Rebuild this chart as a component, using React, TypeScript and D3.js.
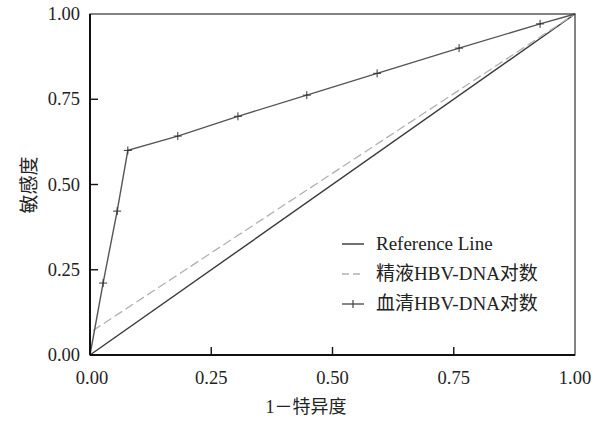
import React from "react";
import * as d3 from "d3";

const ticks = [0, 0.25, 0.5, 0.75, 1];
const tickLabels = ["0.00", "0.25", "0.50", "0.75", "1.00"];
const serumX = [0, 0.027, 0.056, 0.078, 0.181, 0.305, 0.447, 0.592, 0.761, 0.928, 1];
const serumY = [0, 0.211, 0.422, 0.6, 0.642, 0.7, 0.762, 0.826, 0.9, 0.971, 1];
const semenX = [0, 0, 1];
const semenY = [0, 0.066, 1];
const refX = [0, 1];
const refY = [0, 1];
const legendLabels = ["Reference Line", "精液HBV-DNA对数", "血清HBV-DNA对数"];
const xTitle = "1－特异度";
const yTitle = "敏感度";

const W = 604, H = 422;
const L = 90, R = 575, T = 14, B = 355;
const FONT = "'Liberation Serif', 'Times New Roman', 'Noto Sans CJK SC', serif";

export default function App() {
  const x = d3.scaleLinear().domain([0, 1]).range([L, R]);
  const y = d3.scaleLinear().domain([0, 1]).range([B, T]);
  const line = d3.line<[number, number]>().x(d => x(d[0])).y(d => y(d[1]));
  const zip = (a: number[], b: number[]) => a.map((v, i) => [v, b[i]] as [number, number]);
  const serum = zip(serumX, serumY);
  const semen = zip(semenX, semenY);
  const ref = zip(refX, refY);
  const legY = [244, 274, 304];
  return (
    <svg width={W} height={H} style={{ position: "absolute", left: 0, top: 0, background: "#fff" }} fontFamily={FONT}>
      <rect x={0} y={0} width={W} height={H} fill="#fff" />
      {/* reference */}
      <path d={line(ref) || ""} fill="none" stroke="#3a3a3a" strokeWidth={1.4} />
      {/* semen */}
      <path d={line(semen) || ""} fill="none" stroke="#b0b0b0" strokeWidth={1.3} strokeDasharray="9,4" />
      {/* serum */}
      <path d={line(serum) || ""} fill="none" stroke="#555" strokeWidth={1.4} />
      {serum.slice(1, -1).map((d, i) => (
        <g key={i} stroke="#333" strokeWidth={1}>
          <line x1={x(d[0]) - 4} x2={x(d[0]) + 4} y1={y(d[1])} y2={y(d[1])} />
          <line x1={x(d[0])} x2={x(d[0])} y1={y(d[1]) - 4} y2={y(d[1]) + 4} />
        </g>
      ))}
      {/* frame */}
      <rect x={L} y={T} width={R - L} height={B - T} fill="none" stroke="#333" strokeWidth={1.2} />
      <line x1={L} x2={L} y1={T} y2={B} stroke="#111" strokeWidth={2} />
      <line x1={L} x2={R} y1={B} y2={B} stroke="#111" strokeWidth={2} />
      {/* ticks */}
      {ticks.map((t, i) => (
        <g key={"x" + i}>
          {i > 0 && i < 4 && <line x1={x(t)} x2={x(t)} y1={B} y2={B - 8} stroke="#111" strokeWidth={1.4} />}
          <text x={x(t) + (i === 0 ? 2 : 0)} y={384} textAnchor="middle" fontSize={18.5} fill="#222">{tickLabels[i]}</text>
        </g>
      ))}
      {ticks.map((t, i) => (
        <g key={"y" + i}>
          {i > 0 && i < 4 && <line x1={L} x2={L + 8} y1={y(t)} y2={y(t)} stroke="#111" strokeWidth={1.4} />}
          <text x={80} y={y(t) + 6} textAnchor="end" fontSize={18.5} fill="#222">{tickLabels[i]}</text>
        </g>
      ))}
      <text x={306} y={413} textAnchor="middle" fontSize={18} fill="#222">{xTitle}</text>
      <text transform={`translate(36,${185}) rotate(-90)`} textAnchor="middle" fontSize={19} fill="#222">{yTitle}</text>
      {/* legend */}
      <line x1={342} x2={364} y1={legY[0]} y2={legY[0]} stroke="#333" strokeWidth={1.4} />
      <line x1={342} x2={364} y1={legY[1]} y2={legY[1]} stroke="#b0b0b0" strokeWidth={1.3} strokeDasharray="7,4" />
      <line x1={342} x2={364} y1={legY[2]} y2={legY[2]} stroke="#444" strokeWidth={1.3} />
      <line x1={353} x2={353} y1={legY[2] - 4} y2={legY[2] + 4} stroke="#444" strokeWidth={1.2} />
      {legendLabels.map((s, i) => (
        <text key={i} x={376} y={legY[i] + 6} fontSize={19} fill="#222">{s}</text>
      ))}
    </svg>
  );
}
